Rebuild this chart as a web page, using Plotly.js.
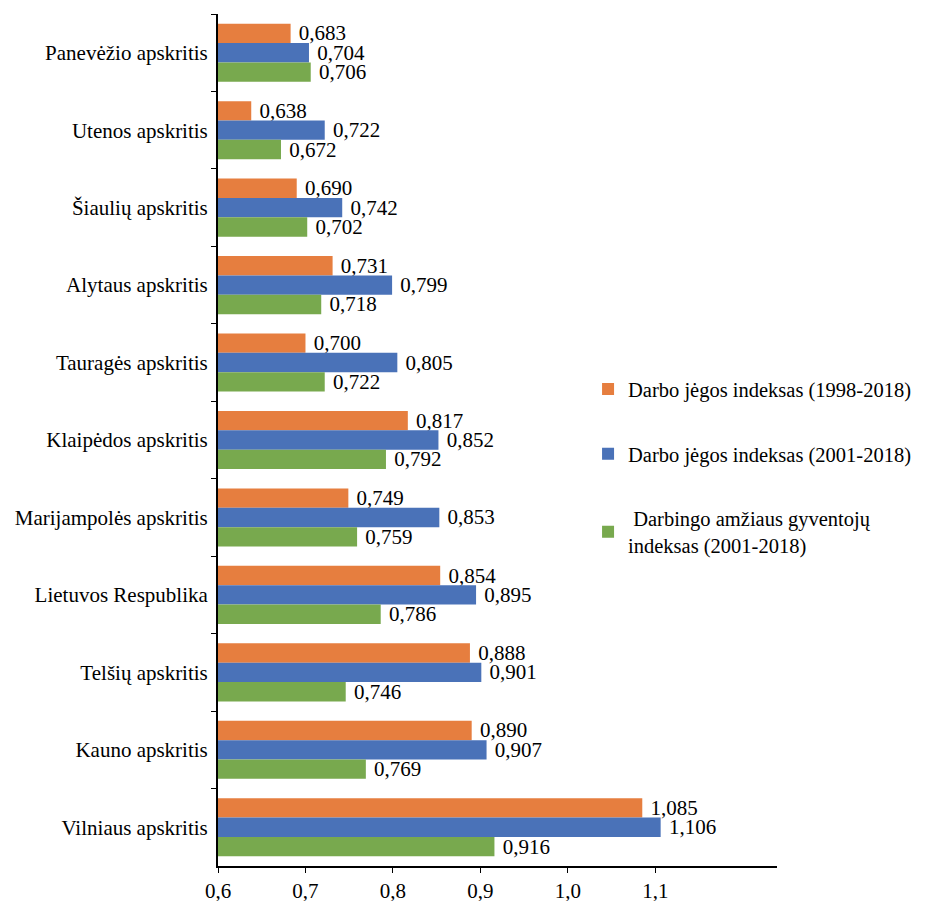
<!DOCTYPE html>
<html>
<head>
<meta charset="utf-8">
<script src="https://cdn.plot.ly/plotly-3.0.1.min.js"></script>
<style>html,body{margin:0;padding:0;background:#fff;}#chart{width:925px;height:901px;}</style>
</head>
<body>
<div id="chart"></div>
<script>
const categories = ["Panevėžio apskritis","Utenos apskritis","Šiaulių apskritis","Alytaus apskritis","Tauragės apskritis","Klaipėdos apskritis","Marijampolės apskritis","Lietuvos Respublika","Telšių apskritis","Kauno apskritis","Vilniaus apskritis"];
const labour1998 = [0.683,0.638,0.690,0.731,0.700,0.817,0.749,0.854,0.888,0.890,1.085];
const labour2001 = [0.704,0.722,0.742,0.799,0.805,0.852,0.853,0.895,0.901,0.907,1.106];
const workingAge2001 = [0.706,0.672,0.702,0.718,0.722,0.792,0.759,0.786,0.746,0.769,0.916];
const seriesNames = ["Darbo jėgos indeksas (1998-2018)","Darbo jėgos indeksas (2001-2018)"," Darbingo amžiaus gyventojų<br>indeksas (2001-2018)"];
const colors = ["#E67E3F","#4A72B8","#78A94E"];
const tickVals = [0.6,0.7,0.8,0.9,1.0,1.1];
const tickText = ["0,6","0,7","0,8","0,9","1,0","1,1"];

const font = {family:"Liberation Serif, Times New Roman, serif", size:21, color:"#000"};
const legendFont = {family:"Liberation Serif, Times New Roman, serif", size:20.5, color:"#000"};
const series = [labour1998, labour2001, workingAge2001];
const traces = series.map((vals,i)=>({
  type:"bar", orientation:"h", y:categories, x:vals, name:seriesNames[i],
  marker:{color:colors[i]}, legendgroup:"g"+i,
  texttemplate:" %{x:.3f}", textposition:"outside", cliponaxis:false, constraintext:"none",
  textfont:font, hoverinfo:"skip"
}));

const layout = {
  width:925, height:901,
  margin:{l:218, r:148, t:14, b:35, autoexpand:false},
  separators:",.",
  font:font,
  barmode:"group", bargap:0.25, bargroupgap:0,
  showlegend:true,
  legend:{x:0.662, xanchor:"left", y:0.583, yanchor:"top", font:legendFont,
    traceorder:"grouped", tracegroupgap:35, itemwidth:30, bgcolor:"rgba(0,0,0,0)"},
  xaxis:{range:[0.6,1.239], tickvals:tickVals, ticktext:tickText, showgrid:false, zeroline:false,
    showline:true, linecolor:"#000", linewidth:2, ticks:"outside", ticklen:5, tickcolor:"#000", tickfont:font, automargin:false},
  yaxis:{autorange:"reversed", showgrid:false, showline:true, linecolor:"#000", linewidth:2, automargin:false,
    ticks:"outside", ticklen:5, tickcolor:"#000", tickson:"boundaries", tickfont:font, ticklabelstandoff:4},
  plot_bgcolor:"#fff", paper_bgcolor:"#fff"
};
Plotly.newPlot("chart", traces, layout, {displayModeBar:false, staticPlot:true});
</script>
</body>
</html>
